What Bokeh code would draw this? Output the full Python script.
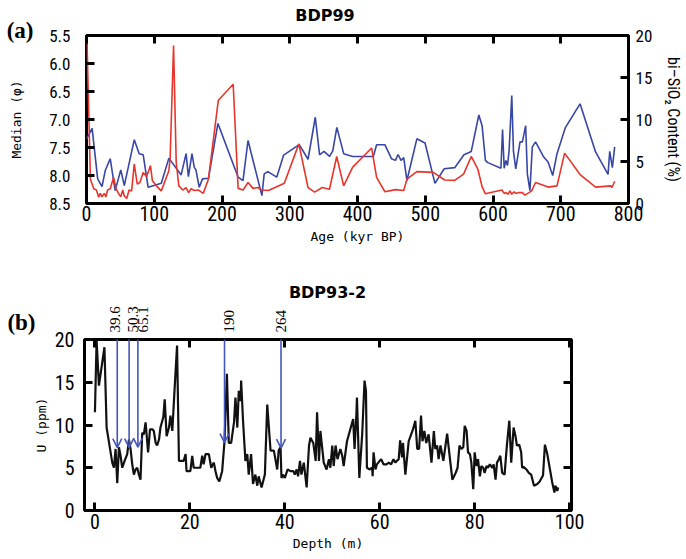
from bokeh.plotting import figure
from bokeh.models import (Range1d, LinearAxis, FixedTicker, Arrow, OpenHead,
                          ColumnDataSource, PrintfTickFormatter)
from bokeh.embed import file_html
from bokeh.resources import INLINE

# ---------------- data: panel (a) BDP99 ----------------
age_median = [0, 8.3, 16.5, 22.9, 27.7, 35, 42.3, 50.6, 55.8, 70.5, 77.8, 83.7, 91, 110.4, 121.6,
              139.7, 147, 150.4, 155.7, 159, 161.5, 166.4, 171.2, 180, 194, 223.8, 231, 238.4,
              258.9, 262.3, 267.6, 280.8, 291, 314, 327, 337.7, 344, 350.5, 358.8, 363.5, 369.5,
              379.6, 392.7, 423.4, 428.2, 440.4, 450.1, 456, 459.9, 464.2, 468.2, 473, 487.6,
              499.7, 514.3, 528, 543.5, 557.2, 567.9, 579.1, 583.9, 588.8, 592.3, 611.7, 614.1,
              616.5, 619, 621.4, 623.8, 627.7, 630.2, 633.6, 639.9, 643.4, 648.2, 650.7, 654.5,
              658, 662.8, 674.9, 681.3, 688.1, 694.5, 706.6, 728.5, 751.4, 769.8, 772.3, 776.2,
              779.6]
median_phi = [7.35, 7.16, 8.06, 8.2, 7.91, 7.70, 8.27, 7.90, 8.18, 7.36, 7.61, 7.63, 8.21, 8.14,
              7.69, 7.99, 7.61, 8.02, 7.61, 7.85, 7.90, 8.21, 8.06, 8.05, 7.07, 8.03, 8.09, 7.375,
              8.36, 7.97, 7.93, 8.03, 7.635, 7.45, 7.71, 6.96, 7.63, 7.57, 7.66, 7.56, 7.14, 7.61,
              7.66, 7.66, 7.45, 7.45, 7.70, 7.73, 7.625, 7.73, 7.68, 8.09, 7.345, 7.42, 8.14, 7.88,
              7.86, 7.63, 7.57, 6.92, 7.11, 7.73, 7.77, 7.87, 7.18, 7.87, 7.73, 7.82, 7.55, 6.57,
              7.57, 7.88, 7.40, 7.40, 7.11, 7.97, 8.27, 7.49, 7.40, 7.67, 7.76, 8.0, 7.61, 7.15,
              6.72, 7.58, 7.98, 7.57, 7.86, 7.49]

age_sio2 = [0.5, 5.8, 10.7, 14.6, 18, 20.4, 22.9, 26.3, 28.7, 31.1, 35, 39.9, 43.8, 47.2, 50.6,
            53.5, 55.8, 59.4, 62.8, 66.6, 70.5, 74.9, 78.8, 83.7, 88.6, 94.4, 97.3, 103.1, 110.4,
            121.6, 123.5, 128.5, 132.4, 136.3, 142.2, 147, 150.8, 154.3, 159.1, 165.4, 172.3, 180,
            185.9, 194.6, 216.5, 223.8, 231.1, 238.4, 245.7, 253, 258.9, 268.6, 292, 313.4, 327,
            336.8, 347.9, 358.6, 369.3, 379.6, 392.7, 420.9, 428.2, 440.4, 456, 468.2, 473, 487.6,
            511.9, 528.8, 543.4, 556.6, 567.9, 577.6, 583.9, 588.8, 613.1, 616.5, 619, 622.4,
            624.8, 627.7, 631.1, 633.6, 638.4, 643.3, 647.2, 653.1, 657, 662.8, 670.1, 681.3,
            694.5, 705.7, 728.5, 751.4, 773.7, 775.6, 779.6]
sio2_pct = [20, 2.9, 1.75, 1.6, 0.75, 1.2, 0.8, 1.2, 0.8, 1.6, 1.75, 3.1, 1.75, 1.2, 0.8, 1.6, 0.9,
            0.6, 1.6, 1.5, 4.7, 2.3, 2.5, 3.7, 3.2, 4.5, 2.7, 2.1, 1.5, 3.9, 5.5, 18.8, 4.9, 2.1,
            1.6, 1.9, 1.3, 1.75, 1.55, 1.6, 1.2, 2.9, 6.7, 12.3, 14.2, 1.8, 1.6, 2.5, 1.8, 1.9,
            1.6, 1.55, 2.4, 7.1, 1.9, 1.35, 1.9, 1.7, 5.6, 2.1, 4.3, 6.6, 3.1, 1.4, 1.65, 1.55,
            2.9, 3.8, 3.7, 2.8, 2.75, 3.5, 5.6, 4.1, 2.0, 1.15, 1.6, 1.2, 1.3, 1.1, 1.5, 1.1, 1.4,
            1.2, 1.3, 1.3, 1.0, 1.3, 1.5, 2.5, 2.3, 1.95, 2.1, 6.0, 3.45, 1.95, 2.1, 1.9, 2.65]

age_ticks = [0, 100, 200, 300, 400, 500, 600, 700, 800]
median_ticks = [5.5, 6.0, 6.5, 7.0, 7.5, 8.0, 8.5]
sio2_ticks = [0, 5, 10, 15, 20]

# ---------------- data: panel (b) BDP93-2 ----------------
depth_m = [0, 0.35, 0.84, 2.0, 2.46, 3.65, 4.0, 4.35, 4.7, 5.05, 5.4, 5.75, 6.25, 6.8, 7.16, 7.5,
           7.86, 8.2, 8.56, 8.9, 9.26, 9.6, 9.96, 10.3, 10.67, 11.0, 11.2, 11.6, 12.1, 12.4, 12.8,
           13.1, 13.5, 13.8, 14.4, 14.7, 15.1, 15.6, 15.9, 16.3, 16.8, 17.3, 17.7, 18.7, 19.1,
           19.3, 20.1, 20.5, 20.8, 22.2, 22.6, 22.9, 23.3, 24.0, 24.5, 25.05, 25.4, 25.75, 26.2,
           26.8, 27.3, 27.8, 28.2, 28.7, 29.3, 29.6, 30.0, 30.3, 30.7, 30.8, 31.2, 31.7, 32.1,
           32.4, 32.9, 33.3, 33.8, 34.2, 34.5, 35.1, 35.8, 36.3, 37.0, 37.7, 38.4, 38.7, 39.1,
           39.3, 39.6, 40.0, 40.6, 41.2, 41.8, 42.1, 42.5, 42.8, 43.2, 43.5, 44.0, 44.6, 45.1,
           45.4, 46.0, 46.5, 46.8, 47.2, 47.5, 48.2, 48.8, 49.3, 49.6, 50.0, 50.3, 50.7, 51.1,
           51.7, 52.1, 52.4, 53.1, 53.8, 54.4, 54.7, 55.1, 55.2, 55.7, 56.3, 56.8, 57.1, 57.3,
           57.9, 58.4, 58.5, 58.7, 59.1, 59.4, 60.0, 60.3, 60.8, 61.4, 61.9, 62.4, 62.9, 63.3,
           63.6, 64.0, 64.3, 64.7, 64.9, 65.4, 66.1, 67.0, 67.5, 67.9, 68.3, 68.7, 69.0, 69.4,
           69.8, 70.3, 70.9, 71.4, 71.7, 72.1, 72.4, 72.8, 73.4, 74.2, 74.8, 75.3, 76.0, 76.4,
           76.8, 77.2, 77.6, 77.9, 78.3, 78.6, 79.0, 79.3, 79.7, 80.0, 80.4, 80.7, 81.1, 81.4,
           81.8, 82.1, 82.5, 82.8, 83.2, 83.7, 84.0, 84.4, 84.7, 85.1, 85.4, 85.8, 86.3, 86.8,
           87.3, 87.7, 88.2, 88.6, 88.9, 89.4, 89.8, 90.0, 90.3, 90.9, 91.4, 91.9, 92.5, 93.2,
           93.7, 94.1, 94.4, 94.8, 95.3, 95.8, 96.3, 96.8, 97.0, 97.4, 97.6]
uranium_ppm = [11.5, 19.9, 14.6, 19.1, 9.7, 5.6, 5.0, 7.2, 3.2, 7.4, 6.4, 5.0, 5.8, 6.6, 8.3, 7.2,
               5.4, 4.2, 4.8, 5.0, 4.2, 3.6, 9.1, 8.9, 10.3, 8.1, 6.8, 9.5, 9.5, 9.3, 7.9,
               7.6, 8.3, 9.7, 10.9, 13.0, 8.7, 9.7, 11.1, 9.3, 14.4, 19.3, 5.8, 5.8, 6.6,
               4.6, 4.6, 6.4, 5.0, 5.0, 6.4, 5.4, 6.6, 6.6, 5.0, 5.6, 4.6, 3.8, 3.4,
               4.6, 8.1, 16.0, 7.9, 7.9, 10.3, 13.2, 9.7, 14.0, 12.8, 15.2, 10.5, 5.8, 6.6,
               4.2, 6.6, 3.1, 4.2, 2.9, 4.0, 2.7, 4.2, 12.4, 7.0, 7.0, 4.8, 7.0, 7.4,
               3.8, 4.2, 3.8, 4.8, 4.6, 4.6, 4.2, 4.8, 4.0, 5.8, 4.2, 5.6, 2.7, 7.6,
               8.5, 7.9, 5.8, 11.5, 5.8, 9.3, 5.6, 4.8, 6.0, 5.0, 7.6, 5.2, 7.6, 6.0,
               7.2, 6.4, 5.2, 8.1, 9.5, 10.7, 7.2, 11.5, 13.2, 3.8, 8.9, 15.2, 14.0, 5.0,
               4.8, 5.0, 4.0, 6.8, 4.8, 5.4, 5.8, 6.0, 5.4, 5.4, 5.6, 5.4, 6.0, 5.6,
               5.8, 6.0, 8.2, 6.2, 7.9, 4.2, 8.1, 9.5, 10.5, 7.2, 7.2, 11.1, 8.1, 9.3,
               7.9, 8.9, 5.6, 9.3, 7.2, 7.6, 6.0, 7.6, 5.8, 9.0, 6.0, 3.6, 4.4, 5.0,
               7.6, 7.2, 7.4, 9.9, 9.3, 6.8, 6.6, 5.6, 2.5, 6.8, 5.2, 6.0, 4.0, 5.2,
               5.0, 4.4, 5.2, 5.0, 5.4, 5.0, 5.4, 3.6, 5.6, 6.0, 6.4, 4.4, 4.2, 7.7,
               10.5, 5.6, 9.7, 8.7, 7.6, 7.7, 6.8, 5.0, 5.1, 4.8, 4.4, 4.2, 2.9, 3.1,
               3.4, 3.8, 4.1, 7.7, 6.6, 5.0, 3.4, 2.1, 2.9, 2.3, 2.7]

marker_depth = [4.7, 7.2, 9.05, 27.3, 39.2]
marker_u = [7.35, 7.35, 7.4, 7.95, 7.3]
marker_age = ["39.6", "50.3", "65.1", "190", "264"]

depth_ticks = [0, 20, 40, 60, 80, 100]
u_ticks = [0, 5, 10, 15, 20]

# ---------------- styling ----------------
TICK_FONT = "Liberation Sans Narrow, Roboto Condensed, Arial Narrow, sans-serif"
LABEL_FONT = "DejaVu Sans Mono"
BLUE = "#3846a6"
RED = "#e8352c"
ARROW_BLUE = "#4556b8"
NBSP = "\u00a0"


def style_axis(ax, size="17px", standoff=6, major_in=8, minor_in=0):
    ax.axis_line_color = None
    ax.major_tick_in = major_in
    ax.major_tick_out = 0
    ax.major_tick_line_width = 3
    ax.major_tick_line_color = "black" if major_in else None
    ax.minor_tick_in = minor_in
    ax.minor_tick_out = 0
    ax.minor_tick_line_width = 3
    ax.minor_tick_line_color = "black" if minor_in else None
    ax.major_label_standoff = standoff
    ax.major_label_text_font = TICK_FONT
    ax.major_label_text_font_size = size
    ax.major_label_text_color = "black"
    ax.axis_label_text_font = LABEL_FONT
    ax.axis_label_text_font_style = "normal"
    ax.axis_label_text_font_size = "13px"
    ax.axis_label_text_color = "black"


def text_axis(ax, key, text, font, size, style, standoff):
    """axis used only to carry one text outside the frame"""
    style_axis(ax, size=size, standoff=standoff, major_in=0)
    ax.major_label_overrides = {key: text}
    ax.major_label_text_font = font
    ax.major_label_text_font_style = style


def base_figure(w, h, xr, yr, bl, br, bt, bb):
    p = figure(width=w, height=h, x_range=xr, y_range=yr, output_backend="svg",
               toolbar_location=None, min_border_left=bl, min_border_right=br,
               min_border_top=bt, min_border_bottom=bb)
    p.grid.visible = False
    p.outline_line_color = "black"
    p.outline_line_width = 3
    p.background_fill_color = "white"
    p.border_fill_color = "white"
    return p


# ---------------- panel (a) ----------------
p1 = base_figure(686, 255, Range1d(0, 800), Range1d(8.5, 5.5), 86, 52, 35, 52)
p1.extra_y_ranges = {"si": Range1d(0, 20)}

xa = p1.xaxis[0]
xa.ticker = FixedTicker(ticks=age_ticks)
style_axis(xa, size="20px", standoff=2)
xa.axis_label = "Age (kyr BP)"
xa.axis_label_standoff = 5

ya = p1.yaxis[0]
ya.ticker = FixedTicker(ticks=median_ticks)
ya.formatter = PrintfTickFormatter(format="%.1f")
style_axis(ya, size="17px", standoff=16)
ya.axis_label = "Median (φ)"
ya.axis_label_standoff = 22

# "(a)" tag: label of an outer left axis at the frame top, lifted by an empty 2nd line
ax_a = LinearAxis(ticker=FixedTicker(ticks=[5.5]))
text_axis(ax_a, 5.5, "(a)\n" + NBSP, "Liberation Serif", "23px", "bold", -27)
ax_a.major_label_text_line_height = 0.4
p1.add_layout(ax_a, "left")

right1 = LinearAxis(y_range_name="si", ticker=FixedTicker(ticks=sio2_ticks))
style_axis(right1, size="17px", standoff=7)
right1.axis_label = "bi–SiO₂ Content (%)"
right1.axis_label_text_font = TICK_FONT
right1.axis_label_text_font_size = "16px"
right1.axis_label_standoff = 9
p1.add_layout(right1, "right")

# top axis: inner ticks + the "BDP99" heading
title_a = 352
top1 = LinearAxis(ticker=FixedTicker(ticks=[title_a], minor_ticks=age_ticks))
text_axis(top1, title_a, "BDP99", "DejaVu Sans", "16px", "bold", 11)
top1.minor_tick_in = 8
top1.minor_tick_line_color = "black"
p1.add_layout(top1, "above")

p1.line(age_median, median_phi, line_color=BLUE, line_width=1.6)
p1.line(age_sio2, sio2_pct, line_color=RED, line_width=1.6, y_range_name="si")

# ---------------- panel (b) ----------------
p2 = base_figure(686, 304, Range1d(-2.2, 100.4), Range1d(0, 20), 84, 115, 84, 49)

xb = p2.xaxis[0]
xb.ticker = FixedTicker(ticks=depth_ticks)
style_axis(xb, size="20px", standoff=3)
xb.axis_label = "Depth (m)"
xb.axis_label_standoff = 4

yb = p2.yaxis[0]
yb.ticker = FixedTicker(ticks=u_ticks)
style_axis(yb, size="20px", standoff=10)
yb.axis_label = "U (ppm)"
yb.axis_label_standoff = 3

ax_b = LinearAxis(ticker=FixedTicker(ticks=[20]))
text_axis(ax_b, 20, "(b)\n" + NBSP, "Liberation Serif", "23px", "bold", -5)
ax_b.major_label_text_line_height = 1.4
p2.add_layout(ax_b, "left")

right2 = LinearAxis(ticker=FixedTicker(ticks=[], minor_ticks=u_ticks))
style_axis(right2, size="18px", major_in=0, minor_in=8)
p2.add_layout(right2, "right")

# top axis: inner ticks + rotated ages of the arrowed horizons
label_depth = [4.15, 8.1, 10.2, 28.2, 39.3]
top2 = LinearAxis(ticker=FixedTicker(ticks=label_depth, minor_ticks=depth_ticks))
style_axis(top2, size="15px", standoff=7, major_in=0, minor_in=8)
top2.major_label_overrides = {d: t for d, t in zip(label_depth, marker_age)}
top2.major_label_text_font = "Liberation Serif"
top2.major_label_orientation = "vertical"
p2.add_layout(top2, "above")

title_b = 49
top2b = LinearAxis(ticker=FixedTicker(ticks=[title_b]))
text_axis(top2b, title_b, "BDP93-2", "DejaVu Sans", "16px", "bold", 2)
p2.add_layout(top2b, "above")

p2.line(depth_m, uranium_ppm, line_color="#111111", line_width=2.2)

arrow_src = ColumnDataSource(dict(
    x0=marker_depth, y0=[20.2] * len(marker_depth), x1=marker_depth, y1=marker_u))
p2.add_layout(Arrow(end=OpenHead(size=9, line_color=ARROW_BLUE, line_width=1.6),
                    x_start="x0", y_start="y0", x_end="x1", y_end="y1",
                    line_color=ARROW_BLUE, line_width=1.6, source=arrow_src))

open("out.html", "w").write(file_html([p1, p2], INLINE))
